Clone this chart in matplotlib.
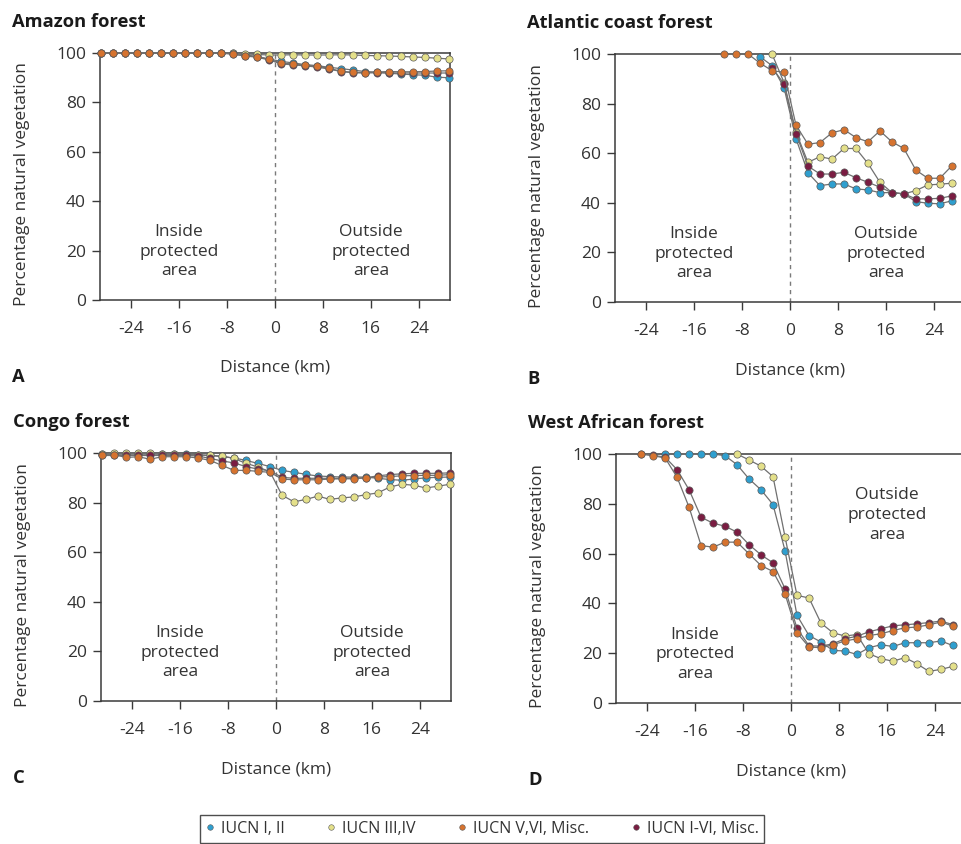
import numpy as np
import matplotlib
matplotlib.use("Agg")
import matplotlib.pyplot as plt
from matplotlib.lines import Line2D

plt.rcParams['font.family'] = ['Open Sans', 'DejaVu Sans']
plt.rcParams['axes.unicode_minus'] = False

nan = np.nan

# ---- data -------------------------------------------------------------
series_names = ["IUCN I, II", "IUCN III,IV", "IUCN V,VI, Misc.", "IUCN I-VI, Misc."]
series_colors = ["#2f9fcf", "#e4e08a", "#d6732f", "#7a1d42"]

dist_a = [-29, -27, -25, -23, -21, -19, -17, -15, -13, -11, -9, -7, -5, -3, -1,
          1, 3, 5, 7, 9, 11, 13, 15, 17, 19, 21, 23, 25, 27, 29]
amazon_i_ii = [100, 100, 100, 100, 100, 100, 100, 100, 100, 100, 100, 100, 99.2, 98.6, 97.6,
               96.6, 96.0, 95.3, 94.9, 94.2, 93.7, 93.1, 92.5, 92.2, 91.8, 91.5, 91.2, 91.0, 90.2, 90.0]
amazon_iii_iv = [100, 100, 100, 100, 100, 100, 100, 100, 100, 100, 100, 100, 99.6, 99.4, 99.2,
                 99.2, 99.3, 99.2, 99.2, 99.2, 99.3, 99.2, 99.0, 98.9, 98.8, 98.6, 98.4, 98.2, 97.9, 97.6]
amazon_v_vi = [100, 100, 100, 100, 100, 100, 100, 100, 100, 100, 100, 99.6, 98.9, 98.5, 97.4,
               96.0, 95.5, 95.1, 94.6, 93.8, 92.6, 92.2, 92.1, 92.3, 92.5, 92.4, 92.4, 92.5, 92.7, 92.8]
amazon_all = [100, 100, 100, 100, 100, 100, 100, 100, 100, 100, 100, 99.5, 98.8, 98.3, 97.2,
              95.6, 95.2, 94.8, 94.3, 93.5, 92.5, 92.0, 91.9, 92.0, 92.0, 91.9, 91.9, 91.9, 91.9, 91.9]

dist_b = [-11, -9, -7, -5, -3, -1, 1, 3, 5, 7, 9, 11, 13, 15, 17, 19, 21, 23, 25, 27]
atlantic_i_ii = [nan, nan, nan, 98.9, 95.3, 86.4, 65.9, 52.1, 46.9, 47.6, 47.6, 45.6, 45.2, 44.1,
                 44.1, 43.6, 40.5, 39.8, 39.6, 40.8]
atlantic_iii_iv = [nan, nan, nan, nan, 100, 88.5, 68.5, 56.3, 58.6, 57.6, 61.9, 61.9, 55.9, 48.3,
                   44.1, 43.6, 44.9, 47.2, 47.5, 47.9]
atlantic_v_vi = [100, 100, 100, 96.3, 93.3, 92.6, 71.3, 63.6, 64.3, 68.2, 69.5, 66.3, 64.6, 69.0,
                 64.6, 61.9, 53.2, 49.9, 49.9, 54.9]
atlantic_all = [nan, nan, nan, nan, 94.5, 88.0, 67.9, 54.8, 51.6, 51.6, 52.3, 50.1, 48.3, 46.3,
                44.1, 43.6, 41.6, 41.6, 41.8, 42.8]

dist_c = dist_a
congo_i_ii = [99.5, 99.5, 99.5, 99.5, 99.5, 99.5, 99.5, 99.5, 99.3, 99.0, 98.5, 98.0, 97.0, 95.8, 94.5,
              93.0, 92.2, 91.4, 90.7, 90.5, 90.3, 90.3, 90.3, 89.8, 89.3, 89.0, 89.5, 90.0, 90.2, 90.3]
congo_iii_iv = [99.5, 100, 100, 100, 100, 99.7, 99.4, 99.2, 99.2, 99.0, 98.8, 97.8, 95.8, 94.4, 92.4,
                83.0, 80.3, 81.3, 82.6, 81.3, 81.9, 82.3, 83.2, 83.9, 86.3, 87.4, 87.0, 85.9, 86.6, 87.4]
congo_v_vi = [99.3, 99.3, 98.2, 98.5, 97.5, 98.5, 98.5, 98.5, 98.0, 97.0, 95.0, 93.0, 93.0, 92.6, 92.2,
              89.5, 89.2, 89.2, 89.2, 89.5, 89.6, 89.6, 90.0, 90.3, 90.5, 90.8, 90.9, 91.0, 91.0, 91.3]
congo_all = [99.0, 99.0, 99.0, 99.0, 99.0, 99.0, 99.0, 99.0, 98.8, 97.8, 96.8, 96.0, 94.5, 93.5, 92.8,
             90.2, 89.8, 89.8, 89.8, 89.8, 89.8, 89.8, 90.0, 90.8, 91.3, 91.6, 91.8, 91.8, 91.8, 92.0]

dist_d = [-25, -23, -21, -19, -17, -15, -13, -11, -9, -7, -5, -3, -1,
          1, 3, 5, 7, 9, 11, 13, 15, 17, 19, 21, 23, 25, 27]
westafrica_i_ii = [nan, nan, 100, 100, 100, 99.8, 100, 99.3, 95.7, 90.0, 85.6, 79.7, 61.2,
                   35.2, 27.1, 24.5, 21.1, 20.9, 19.5, 22.2, 23.4, 22.7, 24.2, 24.2, 24.2, 24.9, 23.1]
westafrica_iii_iv = [nan, nan, nan, nan, nan, nan, nan, nan, 100, 97.6, 95.1, 90.9, 66.8,
                     43.2, 42.2, 32.1, 28.2, 26.9, 27.5, 19.8, 17.8, 16.8, 18.2, 15.8, 12.7, 13.5, 14.7]
westafrica_v_vi = [100, 99.3, 98.4, 90.6, 78.6, 63.2, 62.6, 64.6, 64.6, 59.9, 55.2, 52.8, 43.9,
                   28.2, 22.5, 22.2, 23.4, 24.9, 25.8, 27.1, 27.8, 29.1, 30.2, 30.5, 31.4, 32.5, 30.9]
westafrica_all = [100, 99.5, 98.7, 93.7, 85.6, 74.6, 72.2, 71.0, 68.6, 63.6, 59.5, 56.3, 45.9,
                  30.0, 23.0, 22.8, 23.8, 25.8, 26.8, 28.6, 29.8, 31.0, 31.4, 31.8, 32.3, 32.9, 31.5]

x_ticks = [-24, -16, -8, 0, 8, 16, 24]
y_ticks = [0, 20, 40, 60, 80, 100]

panels = [
    dict(title="Amazon forest", letter="A", x=dist_a,
         ys=[amazon_i_ii, amazon_iii_iv, amazon_v_vi, amazon_all],
         box=(100, 450, 53, 300), outside_y=19.5),
    dict(title="Atlantic coast forest", letter="B", x=dist_b,
         ys=[atlantic_i_ii, atlantic_iii_iv, atlantic_v_vi, atlantic_all],
         box=(615, 965, 54, 302), outside_y=19.5),
    dict(title="Congo forest", letter="C", x=dist_c,
         ys=[congo_i_ii, congo_iii_iv, congo_v_vi, congo_all],
         box=(101, 451, 453, 701), outside_y=19.5),
    dict(title="West African forest", letter="D", x=dist_d,
         ys=[westafrica_i_ii, westafrica_iii_iv, westafrica_v_vi, westafrica_all],
         box=(616, 966, 454, 703), outside_y=75.5),
]

# ---- figure -----------------------------------------------------------
W, H = 961, 844
fig = plt.figure(figsize=(W / 100, H / 100), dpi=100)
text_col = "#333333"
spine_col = "#3a3a3a"
FS = 12.5

def fx(px):
    return px / W

def fy(py):
    return 1 - py / H

draw_order = [0, 1, 3, 2]   # blue, yellow, maroon, orange on top

for p in panels:
    x0, x1, yt, yb = p["box"]
    ax = fig.add_axes([fx(x0), fy(yb), (x1 - x0) / W, (yb - yt) / H])
    ax.set_xlim(-29.2, 29.2)
    ax.set_ylim(0, 100)
    for s in ax.spines.values():
        s.set_color(spine_col)
        s.set_linewidth(1.1)
    ax.set_xticks(x_ticks)
    ax.set_yticks(y_ticks)
    ax.tick_params(axis="both", direction="out", length=6, width=1.0,
                   color=spine_col, labelcolor=text_col, labelsize=FS)
    ax.tick_params(axis="x", pad=9)
    ax.tick_params(axis="y", pad=4)

    ax.axvline(0, color="#7a7a7a", lw=1.0, ls=(0, (3, 3)), zorder=1)

    for k in draw_order:
        ax.plot(p["x"], p["ys"][k], color="#707070", lw=0.9,
                marker="o", markersize=5.2, markerfacecolor=series_colors[k],
                markeredgecolor="#5a5a5a", markeredgewidth=0.5,
                zorder=3 + draw_order.index(k), clip_on=False)

    ax.text(-16, 19.5, "Inside\nprotected\narea", ha="center", va="center",
            fontsize=FS, color=text_col, linespacing=1.3)
    ax.text(16, p["outside_y"], "Outside\nprotected\narea", ha="center", va="center",
            fontsize=FS, color=text_col, linespacing=1.3)

    # figure-level labels
    zero_px = x0 + (x1 - x0) / 2
    fig.text(fx(x0 - 78), fy((yt + yb) / 2 + 8), "Percentage natural vegetation",
             rotation=90, ha="center", va="center", fontsize=FS, color=text_col)
    fig.text(fx(zero_px), fy(yb + 72), "Distance (km)", ha="center", va="baseline",
             fontsize=FS, color=text_col)
    fig.text(fx(x0 - 88), fy(yt - 26), p["title"], ha="left", va="baseline",
             fontsize=13.2, fontweight="bold", color="#1a1a1a")
    fig.text(fx(x0 - 88), fy(yb + 82), p["letter"], ha="left", va="baseline",
             fontsize=13.2, fontweight="bold", color="#1a1a1a")

handles = [Line2D([], [], ls="none", marker="o", markersize=4,
                  markerfacecolor=c, markeredgecolor="#5a5a5a", markeredgewidth=0.4)
           for c in series_colors]
leg = fig.legend(handles, series_names, loc="center", ncol=4,
                 bbox_to_anchor=(fx(482), fy(829)), frameon=True, fancybox=False,
                 fontsize=11.5, handlelength=0.6, handletextpad=0.4,
                 columnspacing=2.6, borderpad=0.35, labelcolor=text_col)
leg.get_frame().set_edgecolor("#222222")
leg.get_frame().set_linewidth(1.0)

fig.savefig("out.png", dpi=100)
